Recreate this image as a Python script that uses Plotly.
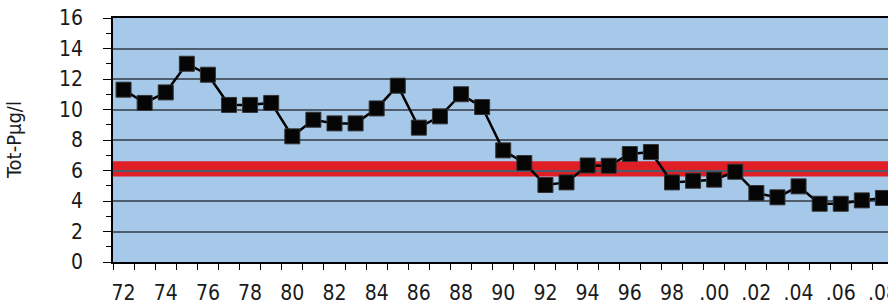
import plotly.graph_objects as go

years = ["72","73","74","75","76","77","78","79","80","81","82","83","84","85","86","87","88","89",
         "90","91","92","93","94","95","96","97","98","99",".00",".01",".02",".03",".04",".05",".06",".07",".08"]
tot_p = [11.3, 10.43, 11.12, 13.0, 12.28, 10.3, 10.3, 10.43, 8.24, 9.33, 9.09, 9.09, 10.07, 11.56, 8.81,
         9.55, 11.0, 10.16, 7.32, 6.49, 5.05, 5.22, 6.33, 6.31, 7.08, 7.21, 5.22, 5.33, 5.40, 5.92,
         4.52, 4.24, 4.96, 3.82, 3.82, 4.04, 4.2]
target_low, target_high, target_line = 5.6, 6.6, 6.0
y_ticks = [0, 2, 4, 6, 8, 10, 12, 14, 16]

FONT = "DejaVu Sans Condensed, DejaVu Sans, sans-serif"
xs = list(range(len(years)))

fig = go.Figure()
fig.add_trace(go.Scatter(
    x=xs, y=tot_p, mode="lines+markers",
    line=dict(color="#000000", width=2.5),
    marker=dict(symbol="square", size=15, color="#050505", line=dict(color="#333333", width=1)),
    showlegend=False, hoverinfo="skip"))

fig.add_shape(type="rect", xref="paper", x0=0, x1=1, yref="y", y0=target_low, y1=target_high,
              fillcolor="#e01e26", line=dict(width=0), layer="between")
fig.add_shape(type="line", xref="paper", x0=0, x1=1, yref="y", y0=target_line, y1=target_line,
              line=dict(color="#000000", width=1.2), layer="between")

label_vals = xs[::2]
label_text = years[::2]

fig.update_layout(
    width=888, height=306,
    margin=dict(l=113, r=0, t=18, b=44),
    paper_bgcolor="#ffffff", plot_bgcolor="#a7c9e9",
    font=dict(family=FONT, size=21, color="#1a1a1a"),
    xaxis=dict(range=[-0.5, -0.5 + 775 / 21.094], tickmode="array", tickvals=label_vals, ticktext=label_text,
               ticks="", showgrid=False, zeroline=False, showline=True, linecolor="#000000", linewidth=1.5,
               mirror=True, automargin=False, ticklabelstandoff=11, ticklabeloverflow="allow",
               minor=dict(tickmode="linear", tick0=-0.5, dtick=1, ticks="outside", ticklen=6,
                          tickcolor="#000000", tickwidth=1.2, showgrid=False)),
    yaxis=dict(range=[0, 16], tickmode="array", tickvals=y_ticks, ticks="outside", ticklen=8,
               tickcolor="#000000", tickwidth=1.2, showgrid=True, gridcolor="#4f5e6e", gridwidth=1.5,
               zeroline=False, showline=True, linecolor="#000000", linewidth=1.5, automargin=False,
               ticklabelstandoff=16,
               minor=dict(tickmode="linear", tick0=1, dtick=2, ticks="outside", ticklen=5,
                          tickcolor="#000000", tickwidth=1.2, showgrid=False)),
)

fig.add_annotation(text="Tot-Pμg/l", xref="paper", yref="paper", x=(14 - 113) / 775, y=0.5,
                   xanchor="center", yanchor="middle", textangle=-90, showarrow=False,
                   font=dict(family=FONT, size=20, color="#1a1a1a"))

fig.write_html("out.html", config={"displayModeBar": False},
               post_script="document.body.style.margin='0';document.body.style.overflow='hidden';")
